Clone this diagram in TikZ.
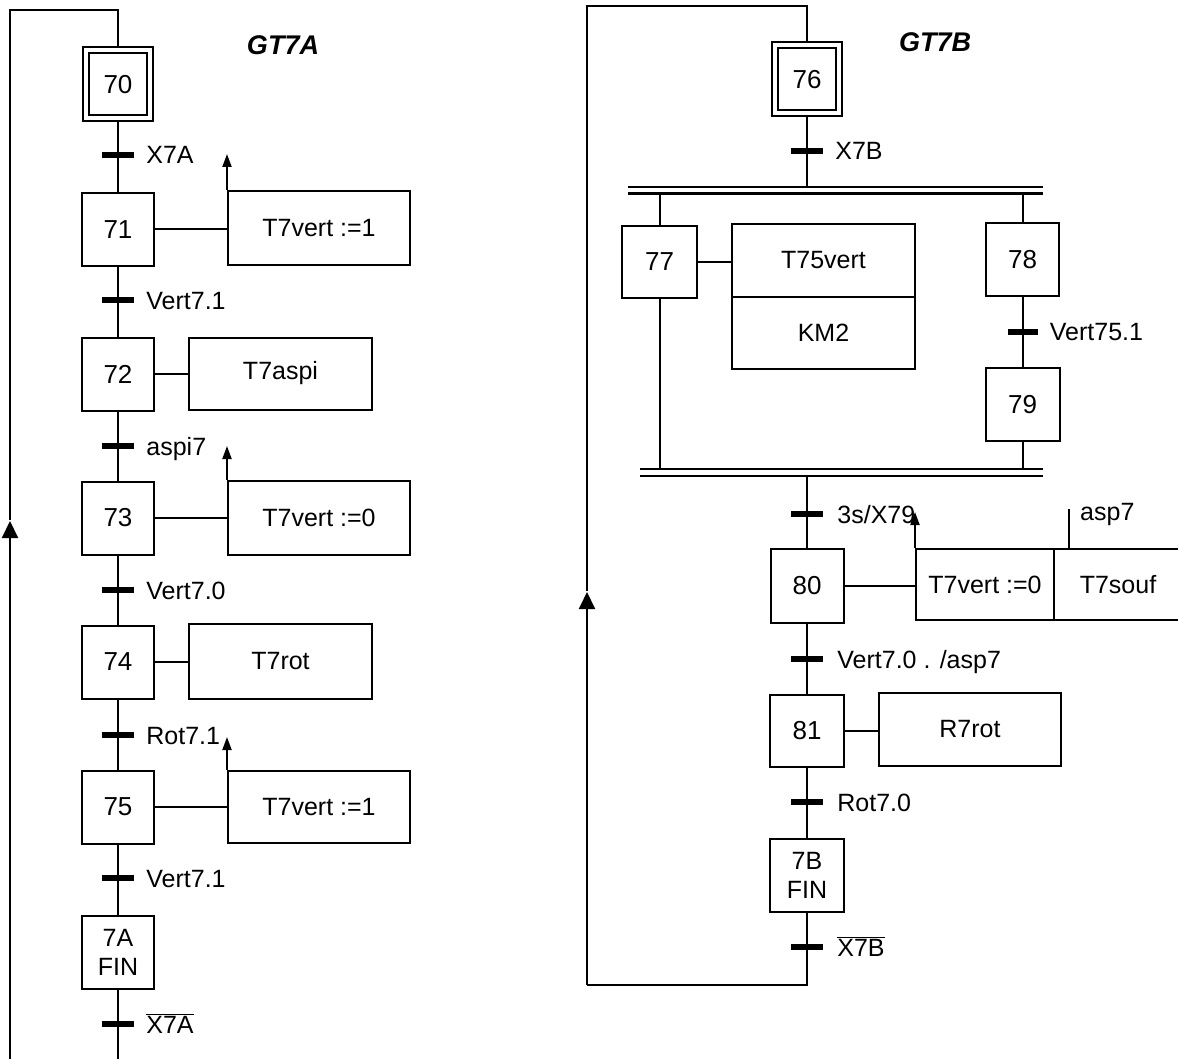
\documentclass[tikz,border=0pt]{standalone}
\usepackage{fontspec}
\setmainfont{Liberation Sans}
\usetikzlibrary{arrows.meta}
\begin{document}
\begin{tikzpicture}[x=1pt,y=-1pt,
  font=\fontsize{25}{29}\selectfont,
  link/.style={line width=2pt},
  stepbox/.style={draw, line width=2pt, minimum width=72pt, minimum height=73pt, inner sep=0pt, align=center, font=\fontsize{26}{29}\selectfont},
  initstep/.style={stepbox, double, double distance=4pt, minimum width=64pt, minimum height=68pt, outer sep=4pt},
  actbox/.style={draw, line width=2pt, minimum height=73pt, inner sep=0pt},
  tbar/.style={fill=black, draw=none, minimum width=32pt, minimum height=6pt, inner sep=0pt},
  tlabel/.style={anchor=base west, inner sep=0pt},
  title/.style={font=\fontsize{27}{30}\selectfont\bfseries\itshape},
  upar/.style={link, -{Triangle[width=9pt,length=13pt]}},
  looparrow/.style={link, -{Triangle[width=16pt,length=17pt]}},
  pbar/.style={line width=2.2pt}
]
\useasboundingbox (0,0) rectangle (1178,1059);

% ---------------- GT7A ----------------
\node[title] (title1) at (283,45) {GT7A};

\node[initstep] (s70) at (118,84.5) {70};
\node[tbar] (t1) at (118,155) {};
\node[tlabel] (l1) at ([xshift=12pt,yshift=-9pt]t1.east) {X7A};

\node[stepbox] (s71) at (118,229.5) {71};
\node[actbox, minimum width=182pt, minimum height=74pt] (a71) at (319,228) {T7vert :=1};
\node[tbar] (t2) at (118,300) {};
\node[tlabel] (l2) at ([xshift=12pt,yshift=-9pt]t2.east) {Vert7.1};

\node[stepbox] (s72) at (118,374) {72};
\node[actbox, minimum width=183pt, minimum height=72pt] (a72) at (280.5,373.5) {T7aspi};
\node[tbar] (t3) at (118,446) {};
\node[tlabel] (l3) at ([xshift=12pt,yshift=-9pt]t3.east) {aspi7};

\node[stepbox] (s73) at (118,518) {73};
\node[actbox, minimum width=182pt, minimum height=74pt] (a73) at (319,518) {T7vert :=0};
\node[tbar] (t4) at (118,590) {};
\node[tlabel] (l4) at ([xshift=12pt,yshift=-9pt]t4.east) {Vert7.0};

\node[stepbox] (s74) at (118,662) {74};
\node[actbox, minimum width=183pt, minimum height=75pt] (a74) at (280.5,661.5) {T7rot};
\node[tbar] (t5) at (118,735) {};
\node[tlabel] (l5) at ([xshift=12pt,yshift=-9pt]t5.east) {Rot7.1};

\node[stepbox] (s75) at (118,807) {75};
\node[actbox, minimum width=182pt, minimum height=72pt] (a75) at (319,807) {T7vert :=1};
\node[tbar] (t6) at (118,878) {};
\node[tlabel] (l6) at ([xshift=12pt,yshift=-9pt]t6.east) {Vert7.1};

\node[stepbox, font=\fontsize{25}{29}\selectfont] (s7A) at (118,952) {7A\\FIN};
\node[tbar] (t7) at (118,1024) {};
\node[tlabel] (l7) at ([xshift=12pt,yshift=-9pt]t7.east) {\(\overline{\hbox{X7A}}\)};

% links GT7A
\draw[link] (s70.south) -- (s71.north);
\draw[link] (s71.south) -- (s72.north);
\draw[link] (s72.south) -- (s73.north);
\draw[link] (s73.south) -- (s74.north);
\draw[link] (s74.south) -- (s75.north);
\draw[link] (s75.south) -- (s7A.north);
\draw[link] (s71.east) -- (s71.east -| a71.west);
\draw[link] (s72.east) -- (s72.east -| a72.west);
\draw[link] (s73.east) -- (s73.east -| a73.west);
\draw[link] (s74.east) -- (s74.east -| a74.west);
\draw[link] (s75.east) -- (s75.east -| a75.west);
\draw[upar] (a71.north west) -- ++(0,-36);
\draw[upar] (a73.north west) -- ++(0,-34);
\draw[upar] (a75.north west) -- ++(0,-33);

% loop GT7A
\coordinate (La) at (118,1062);
\coordinate (Lb) at (10,1062);
\coordinate (Lc) at (10,10);
\coordinate (Ld) at (118,10);
\coordinate (Larr) at (10,521);
\draw[link] (s7A.south) -- (La);
\draw[looparrow] (Lb) -- (Larr);
\draw[link] ([yshift=1pt]Larr) -- (Lc) -- (Ld) -- (s70.north);

% ---------------- GT7B ----------------
\node[title] (title2) at (935,42) {GT7B};

\node[initstep] (s76) at (807,79.5) {76};
\node[tbar] (t8) at (807,151) {};
\node[tlabel] (l8) at ([xshift=12pt,yshift=-9pt]t8.east) {X7B};

% divergence AND
\coordinate (d1a) at (628,187);
\coordinate (d1b) at (1043,187);
\coordinate (d2a) at (628,193.5);
\coordinate (d2b) at (1043,193.5);
\draw[pbar] (d1a) -- (d1b);
\draw[pbar] (d2a) -- (d2b);

\node[stepbox, minimum width=75pt, minimum height=72pt] (s77) at (659.5,262) {77};
\node[actbox, minimum width=183pt, minimum height=73pt] (a77a) at (823.5,260.5) {T75vert};
\node[actbox, minimum width=183pt, minimum height=72pt] (a77b) at (823.5,333) {KM2};

\node[stepbox, minimum width=73pt, minimum height=73pt] (s78) at (1022.5,259.5) {78};
\node[tbar, minimum width=30pt] (t9) at (1022.5,332) {};
\node[tlabel] (l9) at ([xshift=12pt,yshift=-9pt]t9.east) {Vert75.1};
\node[stepbox, minimum width=74pt, minimum height=73pt] (s79) at (1022.5,404.5) {79};

% convergence AND
\coordinate (c1a) at (640,469);
\coordinate (c1b) at (1043,469);
\coordinate (c2a) at (640,476);
\coordinate (c2b) at (1043,476);
\draw[pbar] (c1a) -- (c1b);
\draw[pbar] (c2a) -- (c2b);

\node[tbar] (t10) at (807,514) {};
\node[tlabel] (l10) at ([xshift=14pt,yshift=-9pt]t10.east) {3s/X79};

\node[stepbox, minimum width=73pt, minimum height=74pt] (s80) at (807,585.5) {80};
\node[actbox, minimum width=138pt, minimum height=71pt] (a80a) at (985,584.5) {T7vert :=0};
\node[actbox, minimum width=128pt, minimum height=71pt] (a80b) at (1118,584.5) {T7souf};
\coordinate (asp) at (1069,509);
\node[tlabel] (l80) at (1080,520) {asp7};

\node[tbar] (t11) at (807,659) {};
\node[tlabel] (l11) at ([xshift=14pt,yshift=-9pt]t11.east) {Vert7.0 . /asp7};

\node[stepbox, minimum width=74pt, minimum height=72pt] (s81) at (807,731) {81};
\node[actbox, minimum width=182pt, minimum height=73pt] (a81) at (970,729.5) {R7rot};
\node[tbar] (t12) at (807,802) {};
\node[tlabel] (l12) at ([xshift=14pt,yshift=-9pt]t12.east) {Rot7.0};

\node[stepbox, minimum width=74pt, minimum height=73pt, font=\fontsize{25}{29}\selectfont] (s7B) at (807,875.5) {7B\\FIN};
\node[tbar] (t13) at (807,947) {};
\node[tlabel] (l13) at ([xshift=14pt,yshift=-9pt]t13.east) {\(\overline{\hbox{X7B}}\)};

% links GT7B
\draw[link] (s76.south) -- (s76.south |- d1a);
\draw[link] (s77.north) -- (s77.north |- d2a);
\draw[link] (s78.north) -- (s78.north |- d2a);
\draw[link] (s77.south) -- (s77.south |- c1a);
\draw[link] (s78.south) -- (s79.north);
\draw[link] (s79.south) -- (s79.south |- c1a);
\draw[link] (s80.north |- c2a) -- (s80.north);
\draw[link] (s77.east) -- (s77.east -| a77a.west);
\draw[link] (s80.east) -- (s80.east -| a80a.west);
\draw[link] (s81.east) -- (s81.east -| a81.west);
\draw[link] (s80.south) -- (s81.north);
\draw[link] (s81.south) -- (s7B.south |- s7B.north);
\draw[upar] (a80a.north west) -- ++(0,-36);
\draw[link] (a80b.north -| asp) -- (asp);

% loop GT7B
\coordinate (Ra) at (807,985);
\coordinate (Rb) at (587,985);
\coordinate (Rarr) at (587,592);
\coordinate (Rc) at (587,6);
\coordinate (Rd) at (807,6);
\draw[link] (s7B.south) -- (Ra) -- (Rb);
\draw[looparrow] (Rb) -- (Rarr);
\draw[link] ([yshift=1pt]Rarr) -- (Rc) -- (Rd) -- (s76.north);
\end{tikzpicture}
\end{document}
